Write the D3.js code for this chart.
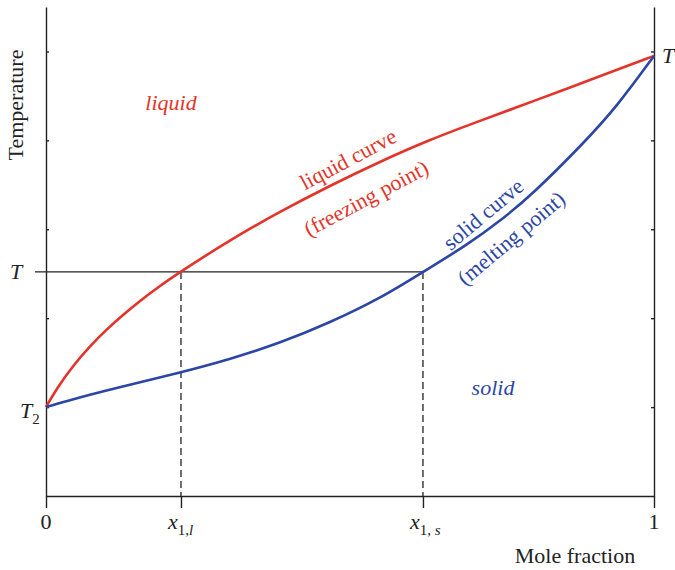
<!DOCTYPE html>
<html>
<head>
<meta charset="utf-8">
<script src="https://cdn.jsdelivr.net/npm/d3@7"></script>
<style>
  html, body { margin: 0; padding: 0; background: #fff; }
  svg { display: block; }
  text { font-family: "Liberation Serif", "DejaVu Serif", serif; }
</style>
</head>
<body>
<div id="chart"></div>
<script>
// ---- data ----
const liquidX = [0, 0.0176, 0.045, 0.072, 0.1, 0.127, 0.155, 0.182, 0.222, 0.303, 0.385, 0.467, 0.549, 0.632, 0.714, 0.801, 0.911, 1];
const liquidT = [1.0, 1.21, 1.47, 1.683, 1.876, 2.04, 2.197, 2.337, 2.527, 2.88, 3.20, 3.49, 3.76, 4.01, 4.22, 4.44, 4.72, 4.95];
const solidX = [0, 0.045, 0.1, 0.222, 0.303, 0.385, 0.467, 0.549, 0.62, 0.692, 0.75, 0.801, 0.883, 0.939, 1];
const solidT = [1.0, 1.09, 1.19, 1.39, 1.54, 1.72, 1.95, 2.22, 2.52, 2.82, 3.11, 3.40, 3.96, 4.38, 4.95];
const xTickValues = [0, 0.222, 0.62, 1];
const yTickValues = [1, 2, 3, 4, 5];
const T2 = 1.0, T1 = 4.95, Tlevel = 2.52;
const x1l = 0.222, x1s = 0.62;

// ---- layout ----
const W = 675, H = 570;
const RED = "#e3342a", BLUE = "#2c46a5", INK = "#222";
const FS = 22;

const svg = d3.select("#chart").append("svg").attr("width", W).attr("height", H);
const x = d3.scaleLinear().domain([0, 1]).range([46, 654]);
const y = d3.scaleLinear().domain([0, 5.5]).range([496, 7]);

// axes
const gx = svg.append("g").attr("transform", `translate(0,${y(0)})`)
  .call(d3.axisBottom(x).tickValues(xTickValues).tickSize(12).tickSizeOuter(0).tickFormat(""));
const gl = svg.append("g").attr("transform", `translate(${x(0)},0)`)
  .call(d3.axisLeft(y).tickValues(yTickValues).tickSize(-3).tickSizeOuter(0).tickFormat(""));
const gr = svg.append("g").attr("transform", `translate(${x(1)},0)`)
  .call(d3.axisRight(y).tickValues(yTickValues).tickSize(-3).tickSizeOuter(0).tickFormat(""));
[gx, gl, gr].forEach(g => {
  g.selectAll("path.domain").attr("stroke", INK).attr("stroke-width", 1.4);
  g.selectAll(".tick line").attr("stroke", INK).attr("stroke-width", 1.4);
});

// T level horizontal and dashed verticals
svg.append("line").attr("x1", 35).attr("x2", x(x1s)).attr("y1", y(Tlevel)).attr("y2", y(Tlevel))
  .attr("stroke", INK).attr("stroke-width", 1.3);
[x1l, x1s].forEach(v => {
  svg.append("line").attr("x1", x(v)).attr("x2", x(v)).attr("y1", y(Tlevel)).attr("y2", y(0))
    .attr("stroke", INK).attr("stroke-width", 1.3).attr("stroke-dasharray", "7,4");
});

// curves
const line = d3.line().x(d => x(d[0])).y(d => y(d[1])).curve(d3.curveBasis);
svg.append("path").datum(liquidX.map((v, i) => [v, liquidT[i]]))
  .attr("d", line).attr("fill", "none").attr("stroke", RED).attr("stroke-width", 2.6);
svg.append("path").datum(solidX.map((v, i) => [v, solidT[i]]))
  .attr("d", line).attr("fill", "none").attr("stroke", BLUE).attr("stroke-width", 2.6);

// x tick labels
svg.append("text").attr("x", x(0)).attr("y", 529).attr("text-anchor", "middle")
  .attr("font-size", FS).attr("fill", INK).text("0");
svg.append("text").attr("x", x(1)).attr("y", 529).attr("text-anchor", "middle")
  .attr("font-size", FS).attr("fill", INK).text("1");
function subLabel(px, py, main, subParts, anchorShift) {
  const t = svg.append("text").attr("x", px + anchorShift).attr("y", py).attr("font-size", FS).attr("fill", INK);
  t.append("tspan").attr("font-style", "italic").text(main);
  let first = true;
  subParts.forEach(p => {
    const s = t.append("tspan").attr("font-size", 15).attr("font-style", p.italic ? "italic" : "normal").text(p.t);
    if (first) { s.attr("dy", 6); first = false; }
  });
  return t;
}
subLabel(x(x1l), 529, "x", [{t: "1,", italic: false}, {t: "l", italic: true}], -13);
subLabel(x(x1s), 529, "x", [{t: "1, ", italic: false}, {t: "s", italic: true}], -13);

// y side labels
svg.append("text").attr("x", 10).attr("y", y(Tlevel) + 7).attr("font-size", FS)
  .attr("font-style", "italic").attr("fill", INK).text("T");
const t2 = svg.append("text").attr("x", 20).attr("y", y(T2) + 11).attr("font-size", FS).attr("fill", INK);
t2.append("tspan").attr("font-style", "italic").text("T");
t2.append("tspan").attr("font-size", 15).attr("dy", 6).text("2");
const t1 = svg.append("text").attr("x", 662).attr("y", y(T1) + 7).attr("font-size", FS).attr("fill", INK);
t1.append("tspan").attr("font-style", "italic").text("T");
t1.append("tspan").attr("font-size", 15).attr("dy", 6).text("1");

// axis titles
svg.append("text").attr("transform", "translate(23,105) rotate(-90)").attr("text-anchor", "middle")
  .attr("font-size", FS).attr("fill", INK).text("Temperature");
svg.append("text").attr("x", 575).attr("y", 563).attr("text-anchor", "middle")
  .attr("font-size", FS).attr("fill", INK).text("Mole fraction");

// region labels
svg.append("text").attr("x", 171).attr("y", 110).attr("text-anchor", "middle")
  .attr("font-size", FS).attr("font-style", "italic").attr("fill", RED).text("liquid");
svg.append("text").attr("x", 493).attr("y", 395).attr("text-anchor", "middle")
  .attr("font-size", FS).attr("font-style", "italic").attr("fill", BLUE).text("solid");

// curve labels
function rotLabel(cx, cy, ang, txt, col) {
  svg.append("text").attr("transform", `translate(${cx},${cy}) rotate(${ang})`)
    .attr("text-anchor", "middle").attr("dy", "0.35em")
    .attr("font-size", FS).attr("fill", col).text(txt);
}
rotLabel(348, 159, -28, "liquid curve", RED);
rotLabel(366, 198, -28, "(freezing point)", RED);
rotLabel(483, 214, -40, "solid curve", BLUE);
rotLabel(511, 238, -40, "(melting point)", BLUE);
</script>
</body>
</html>
